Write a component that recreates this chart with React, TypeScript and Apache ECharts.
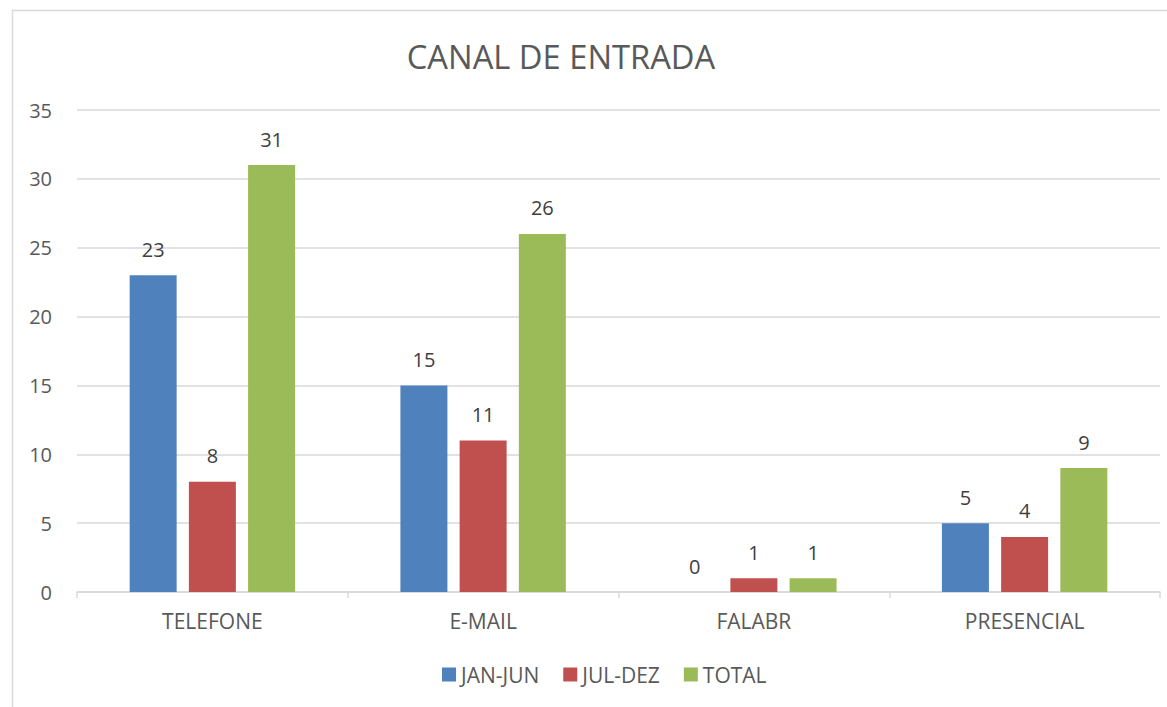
import React, { useEffect, useRef } from "react";
import * as echarts from "echarts";

const categories = ["TELEFONE", "E-MAIL", "FALABR", "PRESENCIAL"];
const janJun = [23, 15, 0, 5];
const julDez = [8, 11, 1, 4];
const total = [31, 26, 1, 9];
const seriesNames = ["JAN-JUN", "JUL-DEZ", "TOTAL"];
const colors = ["#4f81bd", "#c0504d", "#9bbb59"];

const FONT = "'Open Sans', sans-serif";
const TXT = "#595959";

export default function App() {
  const ref = useRef<HTMLDivElement>(null);
  useEffect(() => {
    if (!ref.current) return;
    const chart = echarts.init(ref.current, null, { renderer: "svg" });
    const label = {
      show: true,
      position: "top",
      distance: 16,
      color: "#404040",
      fontSize: 20,
      fontFamily: FONT,
    };
    const mk = (name: string, data: number[], color: string) => ({
      name,
      type: "bar",
      data,
      barWidth: 47,
      barGap: "26%",
      itemStyle: { color },
      label,
    });
    chart.setOption({
      animation: false,
      backgroundColor: "#fff",
      textStyle: { fontFamily: FONT },
      title: {
        text: "CANAL DE ENTRADA",
        left: 556,
        textAlign: "center",
        top: 35,
        textStyle: { fontSize: 32.7, fontWeight: "normal", color: TXT, fontFamily: FONT },
      },
      graphic: [
        {
          type: "rect",
          shape: { x: 12.5, y: 10.5, width: 1300, height: 900 },
          style: { fill: "none", stroke: "#d9d9d9", lineWidth: 1.5 },
          silent: true,
        },
      ],
      grid: { left: 77, right: 7, top: 110, bottom: 115, containLabel: false },
      legend: {
        bottom: 17,
        left: 437,
        icon: "rect",
        itemWidth: 14,
        itemHeight: 14,
        itemGap: 24,
        textStyle: { fontSize: 21, color: TXT, fontFamily: FONT },
        data: seriesNames,
      },
      xAxis: {
        type: "category",
        data: categories,
        axisLine: { lineStyle: { color: "#d9d9d9", width: 1.5 } },
        axisTick: { show: true, length: 6, lineStyle: { color: "#d9d9d9", width: 1.5 } },
        axisLabel: { color: TXT, fontSize: 21, fontFamily: FONT, margin: 18 },
      },
      yAxis: {
        type: "value",
        min: 0,
        max: 35,
        interval: 5,
        axisLine: { show: false },
        axisTick: { show: false },
        splitLine: { lineStyle: { color: "#d9d9d9", width: 1.5 } },
        axisLabel: { color: TXT, fontSize: 20, fontFamily: FONT, margin: 25 },
      },
      series: [
        mk(seriesNames[0], janJun, colors[0]),
        mk(seriesNames[1], julDez, colors[1]),
        mk(seriesNames[2], total, colors[2]),
      ],
    });
    return () => chart.dispose();
  }, []);
  return (
    <div
      ref={ref}
      style={{ position: "fixed", left: 0, top: 0, width: 1167, height: 707 }}
    />
  );
}
